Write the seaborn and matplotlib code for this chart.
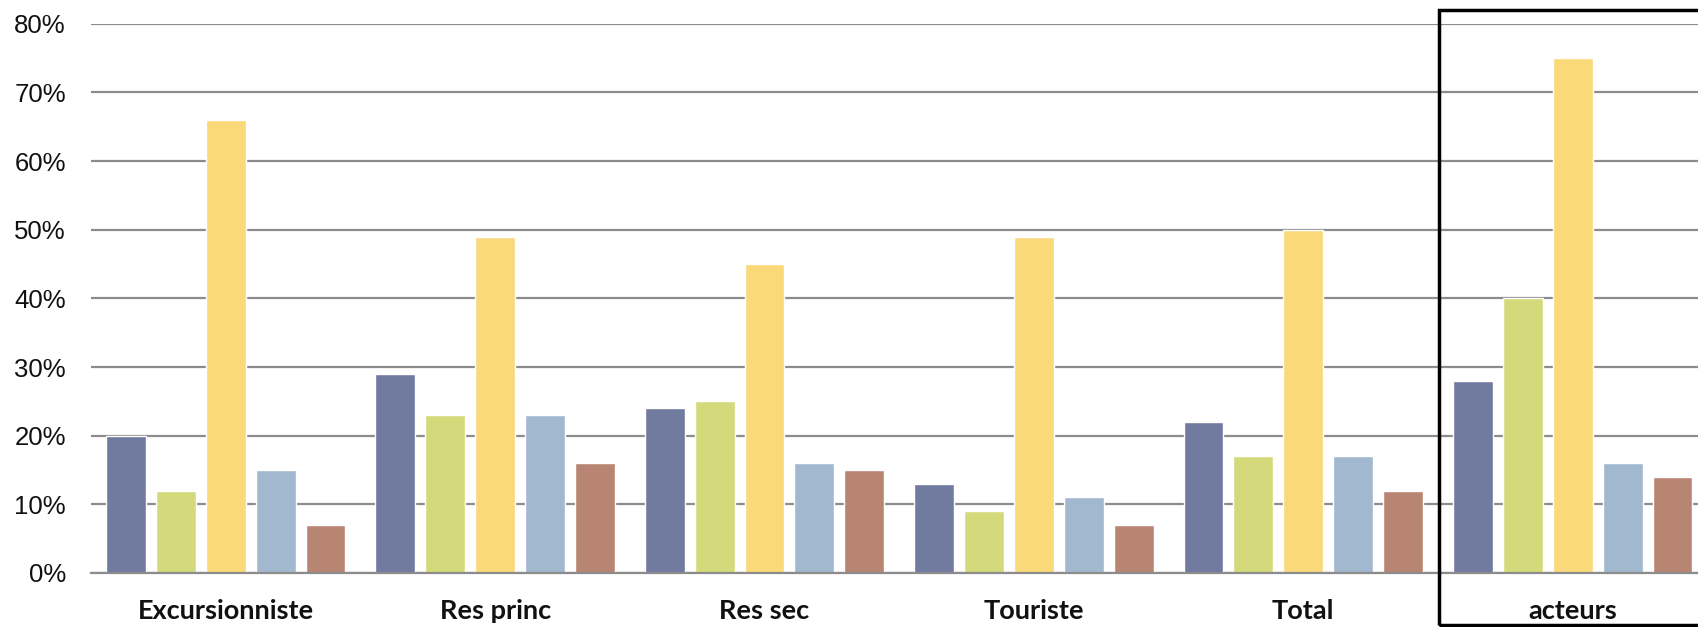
import matplotlib
matplotlib.use("Agg")
import matplotlib.pyplot as plt
from matplotlib.patches import Rectangle
from matplotlib.ticker import FuncFormatter
import pandas as pd
import seaborn as sns

categories = ["Excursionniste", "Res princ", "Res sec", "Touriste", "Total", "acteurs"]
series_names = ["S1", "S2", "S3", "S4", "S5"]
s1 = [20, 29, 24, 13, 22, 28]
s2 = [12, 23, 25, 9, 17, 40]
s3 = [66, 49, 45, 49, 50, 75]
s4 = [15, 23, 16, 11, 17, 16]
s5 = [7, 16, 15, 7, 12, 14]
y_ticks = [0, 10, 20, 30, 40, 50, 60, 70, 80]

colors = ["#717BA0", "#D4DA7B", "#F9D97A", "#A2B8CE", "#B78572"]

rows = []
for name, vals in zip(series_names, [s1, s2, s3, s4, s5]):
    for cat, v in zip(categories, vals):
        rows.append({"cat": cat, "serie": name, "val": v})
df = pd.DataFrame(rows)

sns.set_theme(style="white")
plt.rcParams["font.family"] = ["Liberation Sans", "DejaVu Sans"]

W, H = 1699, 627
fig = plt.figure(figsize=(W / 100, H / 100), dpi=100)
left, right = 91, 1699
top, bottom = 23.8, 573
ax = fig.add_axes([left / W, (H - bottom) / H, (right - left) / W, (bottom - top) / H])

sns.barplot(data=df, x="cat", y="val", hue="serie", order=categories,
            hue_order=series_names, palette=colors, width=0.926, gap=0.2,
            saturation=1, legend=False, ax=ax)

px_per_cat = 269.4
ax.set_xlim(-0.5, -0.5 + (right - left) / px_per_cat)
ax.set_ylim(0, 80)
ax.set_yticks(y_ticks)
ax.yaxis.set_major_formatter(FuncFormatter(lambda v, p: f"{int(round(v))}%"))
ax.grid(axis="y", color="#8C8C8C", linewidth=1.6)
ax.set_axisbelow(True)
for s in ["top", "right", "left"]:
    ax.spines[s].set_visible(False)
ax.spines["bottom"].set_color("#8C8C8C")
ax.spines["bottom"].set_linewidth(1.6)
ax.tick_params(axis="y", length=0, labelsize=18.5, pad=18, colors="#111111")
ax.tick_params(axis="x", length=0, pad=19)
ax.set_xlabel("")
ax.set_ylabel("")
for lab in ax.get_xticklabels():
    lab.set_fontfamily(["Lato", "DejaVu Sans"])
    lab.set_fontweight("bold")
    lab.set_fontsize(19.5)
    lab.set_color("#111111")

# frame highlighting the last group
fig.patches.append(Rectangle((1439 / W, 2 / H), 0.3, (625 - 10) / H,
                             transform=fig.transFigure, fill=False,
                             edgecolor="black", linewidth=2.5, clip_on=False))

fig.savefig("out.png", dpi=100)
